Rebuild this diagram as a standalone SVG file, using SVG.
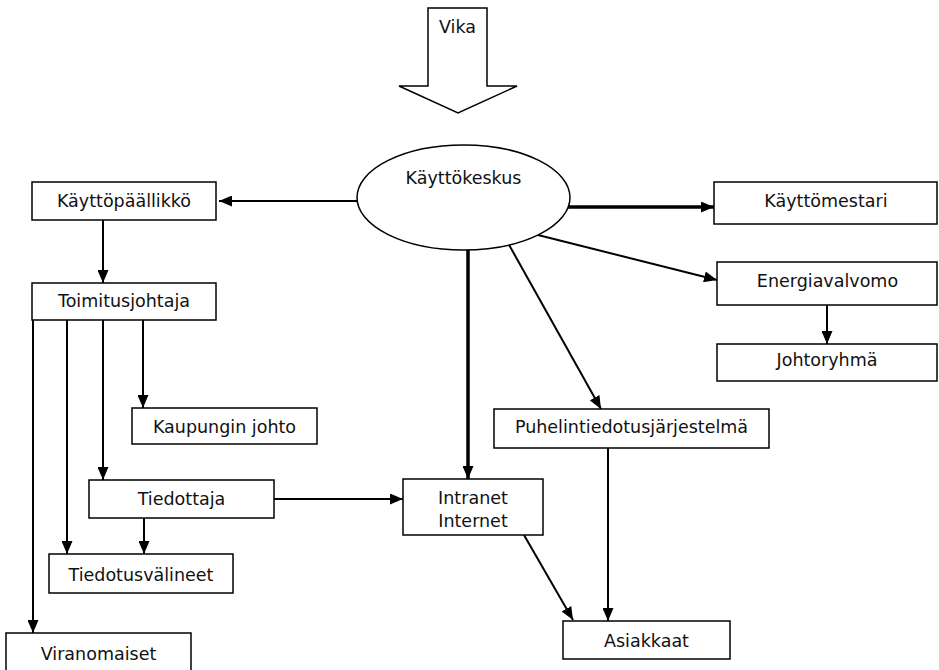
<svg xmlns="http://www.w3.org/2000/svg" width="939" height="670" viewBox="0 0 939 670">
<style>
.box{fill:#fff;stroke:#000;stroke-width:1.5}
.t{font-family:"DejaVu Sans",Verdana,sans-serif;font-size:17.5px;fill:#111;text-anchor:middle}
.c{fill:none;stroke:#000;stroke-width:2}
.k{fill:none;stroke:#000;stroke-width:3.5}
</style>
<defs>
<marker id="ah" markerUnits="userSpaceOnUse" markerWidth="13" markerHeight="11" refX="13" refY="5.5" orient="auto">
<path d="M0,0 L13,5.5 L0,11 z" fill="#000"/>
</marker>
</defs>
<rect width="939" height="670" fill="#fff"/>
<g id="connectors">
<path class="c" d="M357,201 L219,201" marker-end="url(#ah)"/>
<path class="c" d="M103,220 L103,283" marker-end="url(#ah)"/>
<path class="c" d="M33,320 L33,633" marker-end="url(#ah)"/>
<path class="c" d="M67,319 L67,554" marker-end="url(#ah)"/>
<path class="c" d="M103,320 L103,480" marker-end="url(#ah)"/>
<path class="c" d="M143,320 L143,408" marker-end="url(#ah)"/>
<path class="c" d="M144,518 L144,554" marker-end="url(#ah)"/>
<path class="c" d="M273,499 L403,499" marker-end="url(#ah)"/>
<path class="k" d="M468,249 L468,479" marker-end="url(#ah)"/>
<path class="c" d="M508,243 L601,409" marker-end="url(#ah)"/>
<path class="c" d="M608,448 L608,621" marker-end="url(#ah)"/>
<path class="c" d="M524,535 L573,620" marker-end="url(#ah)"/>
<path class="k" d="M566,207 L714,207" marker-end="url(#ah)"/>
<path class="c" d="M538,235 L717,280" marker-end="url(#ah)"/>
<path class="c" d="M827,305 L827,344" marker-end="url(#ah)"/>
</g>
<g id="vika">
<polygon class="box" points="428,8 487,8 487,86 517,86 458,113 399,86 428,86"/>
<text class="t" x="457.5" y="33">Vika</text>
</g>
<g id="kayttokeskus">
<ellipse class="box" cx="463.5" cy="197.5" rx="106.5" ry="52.5"/>
<text class="t" x="463.5" y="184">Käyttökeskus</text>
</g>
<g id="kayttopaallikko">
<rect class="box" x="32" y="182" width="184" height="38"/>
<text class="t" x="124" y="207">Käyttöpäällikkö</text>
</g>
<g id="toimitusjohtaja">
<rect class="box" x="32" y="283" width="184" height="37"/>
<text class="t" x="124" y="307">Toimitusjohtaja</text>
</g>
<g id="kaupungin-johto">
<rect class="box" x="132" y="408" width="185" height="36"/>
<text class="t" x="224.5" y="433">Kaupungin johto</text>
</g>
<g id="tiedottaja">
<rect class="box" x="89" y="480" width="185" height="38"/>
<text class="t" x="181.5" y="505">Tiedottaja</text>
</g>
<g id="tiedotusvalineet">
<rect class="box" x="49" y="554" width="184" height="39"/>
<text class="t" x="141" y="581">Tiedotusvälineet</text>
</g>
<g id="viranomaiset">
<rect class="box" x="6" y="633" width="185" height="40"/>
<text class="t" x="98.5" y="660">Viranomaiset</text>
</g>
<g id="intranet">
<rect class="box" x="403" y="479" width="140" height="56"/>
<text class="t" x="473" y="504">Intranet</text>
<text class="t" x="473" y="527">Internet</text>
</g>
<g id="puhelintiedotus">
<rect class="box" x="494" y="409" width="275" height="39"/>
<text class="t" x="631.5" y="433">Puhelintiedotusjärjestelmä</text>
</g>
<g id="asiakkaat">
<rect class="box" x="563" y="621" width="167" height="38"/>
<text class="t" x="646.5" y="647">Asiakkaat</text>
</g>
<g id="kayttomestari">
<rect class="box" x="714" y="182" width="223" height="42"/>
<text class="t" x="826" y="207">Käyttömestari</text>
</g>
<g id="energiavalvomo">
<rect class="box" x="717" y="262" width="220" height="43"/>
<text class="t" x="827.5" y="287">Energiavalvomo</text>
</g>
<g id="johtoryhma">
<rect class="box" x="717" y="344" width="220" height="37"/>
<text class="t" x="827" y="366">Johtoryhmä</text>
</g>
</svg>
